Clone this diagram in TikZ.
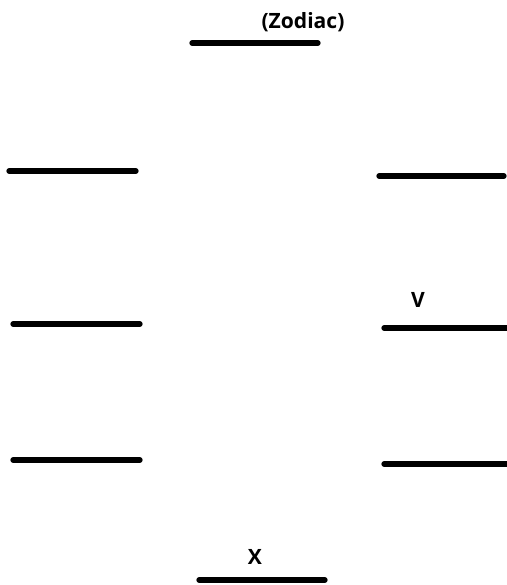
\documentclass[tikz,border=0pt]{standalone}
\usepackage{fontspec}
\setmainfont{Open Sans}
\begin{document}
\begin{tikzpicture}[x=0.03cm,y=-0.03cm,
		level/.style={line width=4.5pt,line cap=round},
		every node/.style={font=\fontsize{18}{21}\selectfont\bfseries,inner sep=0pt}]
		\useasboundingbox (0,0) rectangle (507,585);
		% top and bottom levels
		\draw[level] (192,43) -- (318,43);
		\draw[level] (199,580) -- (325,580);
		% left column
		\foreach \y/\x in {171/9,324/13,460/13} \draw[level] (\x,\y) -- (\x+127,\y);
		% right column
		\foreach \y/\x in {176/379,328/384,464/384} \draw[level] (\x,\y) -- (\x+125,\y);
		\node (zodiac) at (303,22) {(Zodiac)};
		\node (v) at (418,300) {V};
		\node (x) at (255,557) {X};
	\end{tikzpicture}
\end{document}
